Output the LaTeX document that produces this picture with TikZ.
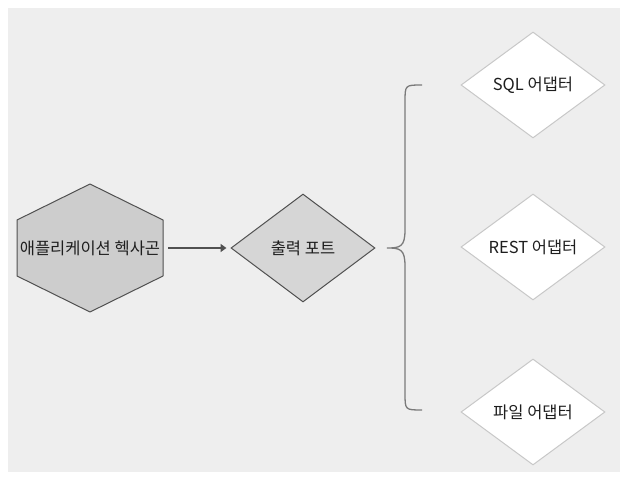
\documentclass[tikz,border=0pt]{standalone}
\usepackage{fontspec}
\setmainfont{Noto Sans CJK KR}
\usepackage{tikz}
\usetikzlibrary{shapes.geometric,arrows.meta}
\definecolor{bggray}{HTML}{EEEEEE}
\definecolor{hexgray}{HTML}{CDCDCD}
\definecolor{portgray}{HTML}{D6D6D6}
\definecolor{edgegray}{HTML}{505050}
\definecolor{lightedge}{HTML}{C8C8C8}
\definecolor{bracegray}{HTML}{7A7A7A}
\definecolor{textgray}{HTML}{1E1E1E}

\begin{document}
\begin{tikzpicture}[x=1pt,y=1pt,
  font=\fontsize{16.5}{18}\selectfont, text=textgray,
  hexbox/.style={minimum width=146pt,minimum height=128pt,inner sep=0pt},
  portbox/.style={diamond,draw=edgegray,fill=portgray,line width=1pt,
    minimum width=144pt,minimum height=108pt,inner sep=0pt},
  adapterbox/.style={diamond,draw=lightedge,fill=white,line width=1pt,
    minimum width=144pt,minimum height=106pt,inner sep=0pt},
  flowline/.style={draw=edgegray,line width=2.5pt,-{Triangle[length=6pt,width=8pt]}},
  braceline/.style={draw=bracegray,line width=1.3pt}]
\useasboundingbox (0,0) rectangle (627,484);
% objects at depth 100:
\path[fill=bggray] (8,12) rectangle (620,476);
% objects at depth 75:
\path[fill=hexgray,draw=edgegray,line width=1pt,line join=round]
  (90,300) -- (163,264) -- (163,208) -- (90,172) -- (17,208) -- (17,264) -- cycle;
% objects at depth 50:
\node[hexbox] (hex) at (90,236) {애플리케이션 헥사곤};
\node[portbox] (port) at (303,236) {출력 포트};
\node[adapterbox] (sql) at (533,399) {SQL 어댑터};
\node[adapterbox] (rest) at (533,237) {REST 어댑터};
\node[adapterbox] (file) at (533,72) {파일 어댑터};
\draw[flowline,shorten <=5pt,shorten >=4pt] (hex.east) -- (port.west);
% the brace
\coordinate (btop) at (422,399);
\coordinate (bbot) at (422,74);
\coordinate (btip) at (387,236);
\draw[braceline] (btop) .. controls (405,399) .. (405,382) -- (405,254)
  .. controls (405,237) and (400,236) .. (btip)
  .. controls (400,236) and (405,235) .. (405,218) -- (405,91)
  .. controls (405,74) .. (bbot);
\end{tikzpicture}
\end{document}
